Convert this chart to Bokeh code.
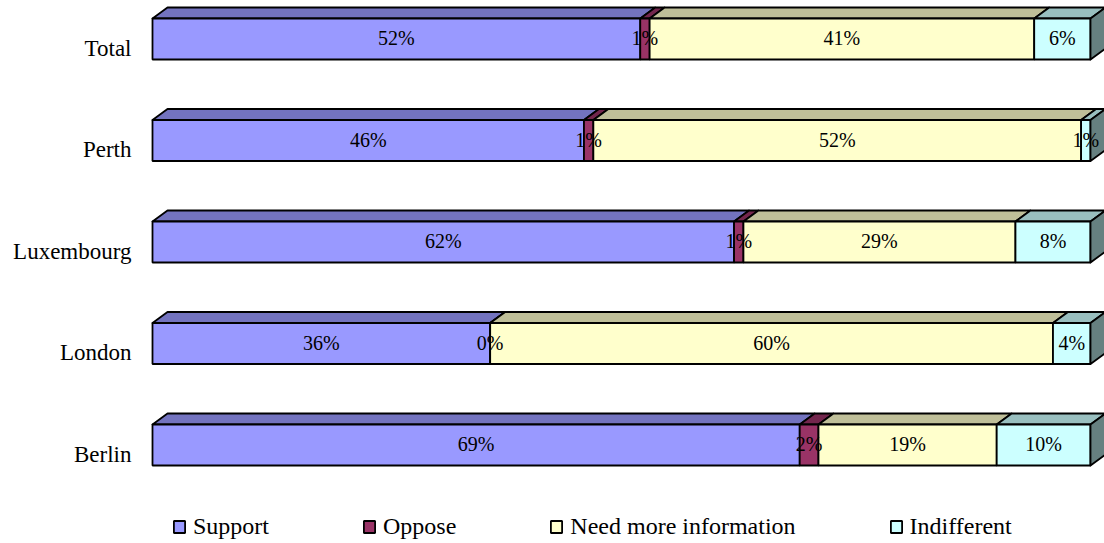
from bokeh.plotting import figure
from bokeh.models import Range1d, Legend, LegendItem
from bokeh.core.properties import value
from bokeh.embed import file_html
from bokeh.resources import INLINE

# Survey results per city (percent of respondents)
cities = ["Total", "Perth", "Luxembourg", "London", "Berlin"]
series = ["Support", "Oppose", "Need more information", "Indifferent"]
support = [52, 46, 62, 36, 69]
oppose = [1, 1, 1, 0, 2]
need_info = [41, 52, 29, 60, 19]
indifferent = [6, 1, 8, 4, 10]

front_colors = ["#9999FF", "#993366", "#FFFFCC", "#CCFFFF"]
top_colors = ["#7373BF", "#73264D", "#BFBF99", "#99BFBF"]
side_colors = ["#4D4D80", "#4D1A33", "#808066", "#668080"]

FONT = "Liberation Serif"

# Pixel geometry of the canvas
W, H = 1104, 543
LEFT = 152                 # pixel where the 0% edge sits
PX_PER_PCT = 9.38          # horizontal pixels per percentage point
PX_PER_ROW = 101.5         # vertical pixels between bar rows
BAR_PX = 41                # height of the front face
DEPTH_X, DEPTH_Y = 15, 11  # 3D extrusion offset in pixels
TOP_ROW_CENTER = 38.5      # pixel centre of the first bar

x_start = -LEFT / PX_PER_PCT
x_end = (W - LEFT) / PX_PER_PCT
n = len(cities)
y_pos = [n - 1 - i for i in range(n)]  # Total at top
y_top = (n - 1) + TOP_ROW_CENTER / PX_PER_ROW
y_bot = y_top - H / PX_PER_ROW

dx = DEPTH_X / PX_PER_PCT
dy = DEPTH_Y / PX_PER_ROW
half = BAR_PX / PX_PER_ROW / 2

p = figure(width=W, height=H, output_backend="svg", toolbar_location=None,
           x_range=Range1d(x_start, x_end), y_range=Range1d(y_bot, y_top),
           min_border_left=0, min_border_right=0, min_border_top=0,
           min_border_bottom=0, outline_line_color=None)
p.xaxis.visible = False
p.yaxis.visible = False
p.xgrid.visible = False
p.ygrid.visible = False
p.background_fill_color = "white"
p.border_fill_color = "white"

LW = 1.8
values = [support, oppose, need_info, indifferent]
legend_items = []
label_x, label_y, label_txt = [], [], []

starts = [0.0] * n
for s, vals in enumerate(values):
    lefts = list(starts)
    rights = [a + v for a, v in zip(lefts, vals)]
    bottoms = [y - half for y in y_pos]
    tops = [y + half for y in y_pos]

    # top face of each segment
    xs_top = [[l, r, r + dx, l + dx] for l, r in zip(lefts, rights)]
    ys_top = [[t, t, t + dy, t + dy] for t in tops]
    p.patches(xs_top, ys_top, fill_color=top_colors[s], line_color="black",
              line_width=LW, line_join="round")

    # front face
    r = p.quad(left=lefts, right=rights, bottom=bottoms, top=tops,
               fill_color=front_colors[s], line_color="black", line_width=LW)
    legend_items.append(LegendItem(label=series[s], renderers=[r]))

    # side face on the last segment
    if s == len(values) - 1:
        xs_side = [[rr, rr + dx, rr + dx, rr] for rr in rights]
        ys_side = [[b, b + dy, t + dy, t] for b, t in zip(bottoms, tops)]
        p.patches(xs_side, ys_side, fill_color=side_colors[s], line_color="black",
                  line_width=LW, line_join="round")

    for l, rr, y, v in zip(lefts, rights, y_pos, vals):
        label_x.append((l + rr) / 2)
        label_y.append(y)
        label_txt.append(f"{v}%")
    starts = rights

# value labels on the front faces
p.text(x=label_x, y=label_y, text=label_txt, text_font=value(FONT),
       text_font_size="20px", text_align="center", text_baseline="middle",
       text_color="black", y_offset=-1)

# category labels
p.text(x=[0] * n, y=y_pos, text=cities, text_font=value(FONT),
       text_font_size="23px", text_align="right", text_baseline="middle",
       text_color="black", x_offset=-21, y_offset=9)

legend = Legend(items=legend_items, orientation="horizontal", location=(172, 3),
                spacing=93, label_standoff=7, glyph_width=14, glyph_height=15,
                label_height=20, padding=0, margin=0,
                label_text_font=FONT, label_text_font_size="24px",
                label_text_color="black", border_line_color=None,
                background_fill_alpha=0)
p.add_layout(legend)

open("out.html", "w").write(file_html(p, INLINE))
